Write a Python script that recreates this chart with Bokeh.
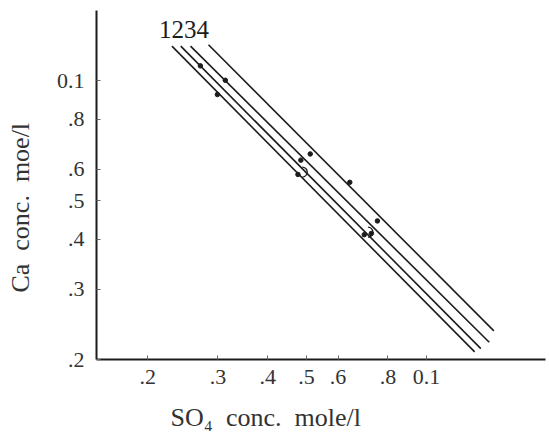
import math
from bokeh.plotting import figure
from bokeh.models import FixedTicker, CustomJSTickFormatter, ColumnDataSource
from bokeh.core.properties import value
from bokeh.embed import file_html
from bokeh.resources import INLINE

# ---- data ----
tick_values = [0.2, 0.3, 0.4, 0.5, 0.6, 0.8, 1.0]
tick_labels = [".2", ".3", ".4", ".5", ".6", ".8", "0.1"]

line_ids = ["1", "2", "3", "4"]
line_so4_start = [0.230, 0.242, 0.256, 0.284]
line_so4_end = [1.320, 1.368, 1.436, 1.475]
line_ca_start = [1.220, 1.220, 1.220, 1.230]
line_ca_end = [0.209, 0.213, 0.221, 0.236]

point_so4 = [0.271, 0.313, 0.299, 0.511, 0.484, 0.476, 0.642, 0.753, 0.698, 0.727]
point_ca = [1.089, 1.002, 0.923, 0.655, 0.632, 0.582, 0.556, 0.445, 0.411, 0.414]

hook_so4 = [0.488, 0.713]
hook_ca = [0.590, 0.417]

NB = "\u00a0"
x_title = "SO\u2084" + NB + " conc." + NB + " mole/l"
y_title = "Ca" + NB + " conc." + NB + " moe/l"
line_label = "1234"

FONT = "Liberation Serif"
INK = "#1c1c1c"

p = figure(width=549, height=434, x_axis_type="log", y_axis_type="log",
           x_range=(0.1488, 1.987), y_range=(0.2, 1.499),
           output_backend="svg", toolbar_location=None,
           min_border_left=96, min_border_top=10, min_border_bottom=75, min_border_right=4)
p.outline_line_color = None
p.xgrid.visible = False
p.ygrid.visible = False
p.background_fill_color = "white"
p.border_fill_color = "white"

fmt_code = """
let b = 0, d = 1e9;
for (let i = 0; i < v.length; i++) {
  const e = Math.abs(Math.log(tick) - Math.log(v[i]));
  if (e < d) { d = e; b = i; }
}
return l[b];
"""
for ax in (p.xaxis[0], p.yaxis[0]):
    ax.ticker = FixedTicker(ticks=tick_values)
    ax.formatter = CustomJSTickFormatter(args=dict(v=tick_values, l=tick_labels), code=fmt_code)
    ax.axis_line_width = 2
    ax.axis_line_color = INK
    ax.major_tick_in = 4
    ax.major_tick_out = 0
    ax.major_tick_line_color = "#666"
    ax.major_tick_line_width = 1
    ax.minor_tick_line_color = None
    ax.major_label_text_font = FONT
    ax.major_label_text_font_size = "22px"
    ax.major_label_text_color = "#333"
    ax.axis_label_text_font = FONT
    ax.axis_label_text_font_size = "26px"
    ax.axis_label_text_font_style = "normal"
    ax.axis_label_text_color = "#333"
p.yaxis[0].major_label_standoff = 12
p.xaxis[0].major_label_standoff = 10

# titles: trailing no-break spaces shift the visible text off the frame centre, as in the original
p.xaxis[0].axis_label = x_title + NB * 17
p.xaxis[0].axis_label_standoff = 16
p.yaxis[0].axis_label = y_title + NB * 7
p.yaxis[0].axis_label_standoff = 19

# solubility lines
src = ColumnDataSource(dict(
    x0=line_so4_start, x1=line_so4_end, y0=line_ca_start, y1=line_ca_end, id=line_ids))
p.segment(x0="x0", y0="y0", x1="x1", y1="y1", source=src, line_color=INK, line_width=1.6)

# measured points
p.scatter(point_so4, point_ca, size=4.5, color=INK)

# small hooks
p.arc(x=hook_so4, y=hook_ca, radius=5, radius_units="screen",
      start_angle=-math.pi / 2, end_angle=math.pi / 2, direction="anticlock",
      line_color=INK, line_width=1.3)

# line numbers
p.text(x=[line_so4_start[0]], y=[line_ca_start[0]], text=[line_label],
       x_offset=-13, y_offset=-17, text_align="left", text_baseline="alphabetic",
       text_font=value(FONT), text_font_size="25px", text_color=INK)

open("out.html", "w").write(file_html(p, INLINE))
